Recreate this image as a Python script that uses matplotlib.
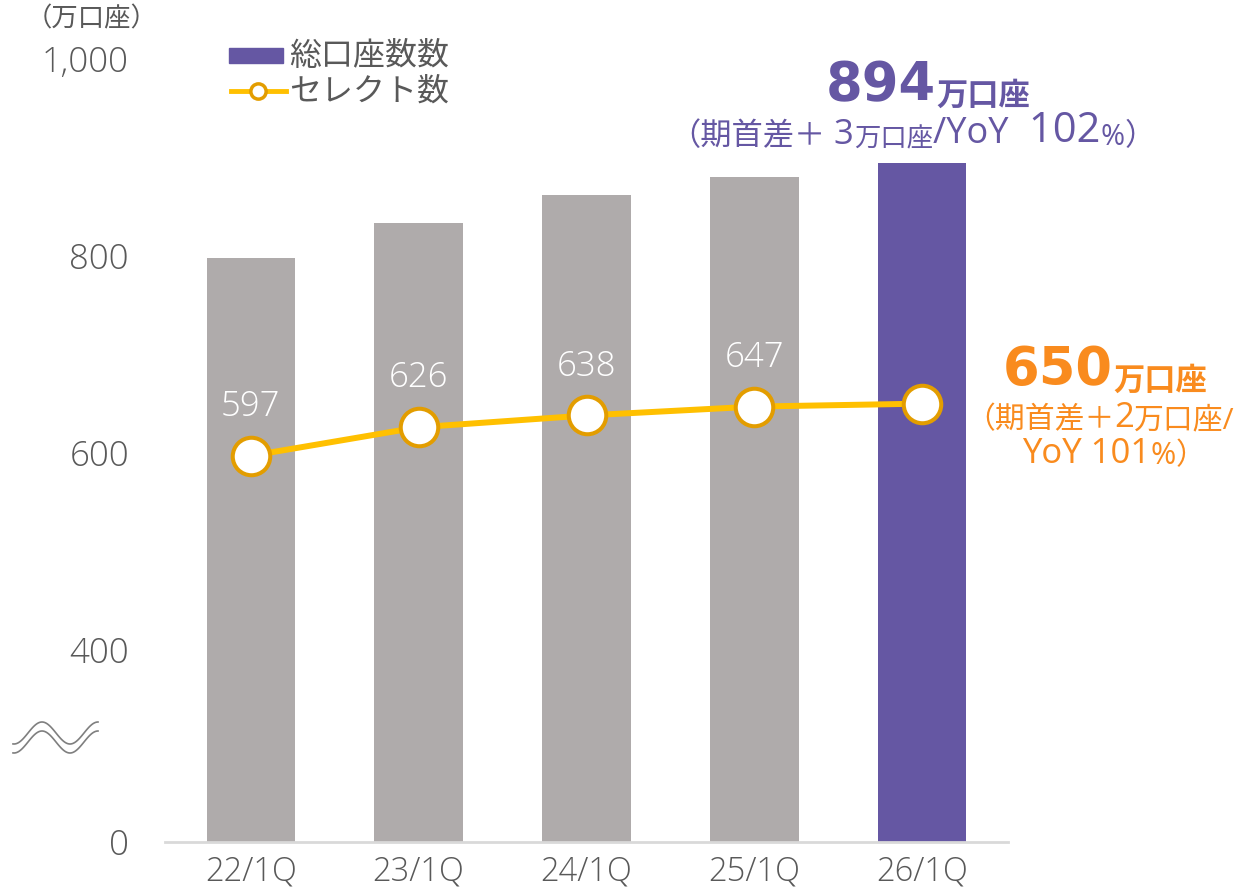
import matplotlib.pyplot as plt
from matplotlib.lines import Line2D
from matplotlib.patches import Rectangle
import numpy as np

plt.rcParams['font.family'] = ['Open Sans', 'Noto Sans CJK JP']

quarters = ['22/1Q', '23/1Q', '24/1Q', '25/1Q', '26/1Q']
accounts = [798, 833, 862, 880, 894]      # 総口座数 (万口座)
select = [597, 626, 638, 647, 650]        # セレクト数 (万口座)
yticks = [0, 400, 600, 800, 1000]
ytick_labels = ['0', '400', '600', '800', '1,000']

gray = '#AFABAB'
purple = '#6557A3'
yellow = '#FFC000'
edge = '#E39D00'
orange = '#F98B1E'
txt = '#595959'
big = ['DejaVu Sans', 'Noto Sans CJK JP']

# broken axis: below 400 is squeezed
k = 0.488


def fwd(v):
    v = np.asarray(v, dtype=float)
    return np.where(v >= 400, v, 400 - (400 - v) * k)


def inv(v):
    v = np.asarray(v, dtype=float)
    return np.where(v >= 400, v, 400 - (400 - v) / k)


W, H = 1238, 893
fig = plt.figure(figsize=(W / 100, H / 100), dpi=100)
ax = fig.add_axes([165 / W, 1 - 842 / H, (1008 - 165) / W, (842 - 59) / H])
ax.set_yscale('function', functions=(fwd, inv))

x = np.arange(len(quarters))
colors = [gray] * 4 + [purple]
ax.bar(x, accounts, width=0.525, color=colors, zorder=1)
ax.plot(x, select, color=yellow, lw=4.3, zorder=2, solid_capstyle='butt')
ax.plot(x, select, 'o', ms=27, mfc='white', mec=edge, mew=2.9, zorder=3)
for i in range(4):
    ax.annotate(str(select[i]), (x[i], select[i]), xytext=(0, 23),
                textcoords='offset points', ha='center', va='bottom',
                color='white', fontsize=25, fontweight='light')

ax.set_xlim(-0.51, 4.51)
ax.set_ylim(0, 1000)
ax.set_yticks(yticks)
ax.set_yticklabels(ytick_labels, fontweight='light')
ax.set_xticks(x)
ax.set_xticklabels(quarters, fontweight='light')
ax.tick_params(axis='y', length=0, pad=26, labelsize=25, labelcolor=txt)
ax.tick_params(axis='x', length=0, pad=9, labelsize=23.5, labelcolor=txt)
for s in ['top', 'right', 'left']:
    ax.spines[s].set_visible(False)
ax.spines['bottom'].set_color('#D9D9D9')
ax.spines['bottom'].set_linewidth(2)


def px(xp, yp):
    return xp / W, 1 - yp / H


# unit label
fig.text(*px(92, 20), '（万口座）', ha='center', va='center', fontsize=19, color=txt)

# legend
fig.patches.append(Rectangle(px(229, 63), 54 / W, 15 / H, color=purple,
                             transform=fig.transFigure))
fig.text(*px(289, 56), '総口座数数', ha='left', va='center', fontsize=23, color=txt)
fig.lines.append(Line2D([231 / W, 286 / W], [1 - 91 / H] * 2, color=yellow, lw=3.5,
                        transform=fig.transFigure))
fig.lines.append(Line2D([258 / W], [1 - 91 / H], marker='o', ms=11, mfc='white',
                        mec=edge, mew=2.5, transform=fig.transFigure))
fig.text(*px(289, 92), 'セレクト数', ha='left', va='center', fontsize=23, color=txt)


def chain(parts, xp, yp, color, family=None, weight='normal'):
    # text pieces placed one after another on a common baseline
    fam = family or plt.rcParams['font.family']
    prev = fig.text(*px(xp, yp), parts[0][0], fontsize=parts[0][1], color=color,
                    fontweight=weight, ha='left', va='baseline', family=fam)
    for s, fs in parts[1:]:
        prev = fig.add_artist(plt.Annotation(s, xy=(1, 0), xycoords=prev,
                                             fontsize=fs, color=color, fontweight=weight,
                                             ha='left', va='bottom', family=fam))
    return prev


# 26/1Q total accounts callout
chain([('894', 38), ('万口座', 22.5)], 826, 100, purple, big, 'bold')
chain([('（期首差＋', 22.5), (' 3', 25), ('万口座', 19), ('/YoY ', 26),
       (' 102', 30), ('%', 21), ('）', 22)], 669, 145, purple)

# 26/1Q select callout
chain([('650', 38), ('万口座', 22.5)], 1003, 385, orange, big, 'bold')
chain([('（期首差＋', 21.5), ('2', 25), ('万口座/', 21.5)], 965, 428, orange)
chain([('YoY 101', 25), ('%', 22), ('）', 21.5)], 1022, 463, orange)

# axis break mark
bx = np.linspace(13, 98, 100)
by = 733 + 11 * np.cos(2 * np.pi * (bx - 14) / 56)
for off in (0, 9):
    fig.lines.append(Line2D(bx / W, 1 - (by + off) / H, color='#7F7F7F',
                            lw=1.2, transform=fig.transFigure))

fig.savefig('out.png', dpi=100)
